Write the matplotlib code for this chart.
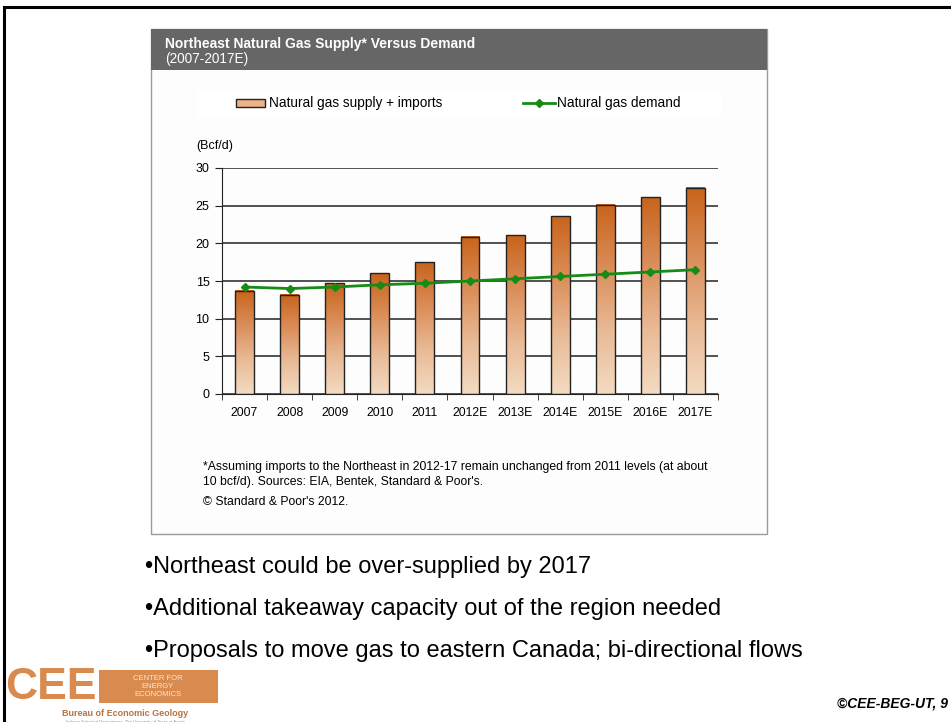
import matplotlib
matplotlib.use("Agg")
import matplotlib.pyplot as plt
import numpy as np
from matplotlib.patches import Rectangle
from matplotlib.lines import Line2D
from matplotlib.colors import LinearSegmentedColormap

# ---- data ----
categories = ["2007", "2008", "2009", "2010", "2011", "2012E", "2013E", "2014E", "2015E", "2016E", "2017E"]
supply = [13.7, 13.2, 14.7, 16.0, 17.5, 20.9, 21.1, 23.6, 25.1, 26.1, 27.4]
demand = [14.2, 14.0, 14.2, 14.5, 14.7, 15.0, 15.3, 15.6, 15.9, 16.2, 16.5]
y_ticks = [0, 5, 10, 15, 20, 25, 30]

title = "Northeast Natural Gas Supply* Versus Demand"
subtitle = "(2007-2017E)"
legend_labels = ["Natural gas supply + imports", "Natural gas demand"]
unit = "(Bcf/d)"
footnote1 = "*Assuming imports to the Northeast in 2012-17 remain unchanged from 2011 levels (at about"
footnote2 = "10 bcf/d). Sources: EIA, Bentek, Standard & Poor's."
footnote3 = "\u00a9 Standard & Poor's 2012."
bullets = ["\u2022Northeast could be over-supplied by 2017",
           "\u2022Additional takeaway capacity out of the region needed",
           "\u2022Proposals to move gas to eastern Canada; bi-directional flows"]
credit = "\u00a9CEE-BEG-UT, 9"

sans = "Liberation Sans"

W, H = 951, 722
fig = plt.figure(figsize=(W / 100, H / 100), dpi=100)
fig.patch.set_facecolor("white")

def fx(x):
    return x / W

def fy(y):
    return 1 - y / H

def ptext(x, y, s, **kw):
    kw.setdefault("family", sans)
    fig.text(fx(x), fy(y), s, **kw)

def prect(x0, y0, x1, y1, **kw):
    kw.setdefault("zorder", -5)
    fig.add_artist(Rectangle((fx(x0), fy(y1)), fx(x1) - fx(x0), fy(y0) - fy(y1), **kw))

# outer slide frame
fig.add_artist(Line2D([fx(4), fx(4)], [fy(7), fy(722)], color="black", lw=2.2))
fig.add_artist(Line2D([fx(4), fx(951)], [fy(7), fy(7)], color="black", lw=2.2))

# chart panel
prect(151, 29, 767, 534, facecolor="#FDFDFD", edgecolor="#9a9a9a", lw=1.0, zorder=-6)
prect(151, 29, 767, 70, facecolor="#666666", edgecolor="none")
prect(197, 91, 722, 117, facecolor="white", edgecolor="none")
ptext(165, 44, title, color="white", fontsize=10, fontweight="bold", va="center")
ptext(165, 59, subtitle, color="white", fontsize=9.8, va="center")

# plot axes
ax_l, ax_r, ax_t, ax_b = 222, 718, 168, 394
ax = fig.add_axes([fx(ax_l), fy(ax_b), fx(ax_r) - fx(ax_l), fy(ax_t) - fy(ax_b)])
ax.patch.set_alpha(0)
x = np.arange(len(categories))
bars = ax.bar(x, supply, width=0.42, color="none", edgecolor="#222222", lw=1.0, zorder=3)

cmap = LinearSegmentedColormap.from_list("g", ["#F3DBC2", "#E9BA96", "#DA8D58", "#C8641C"])
grad = np.linspace(0, 1, 256).reshape(-1, 1)
for b in bars:
    x0, w, h = b.get_x(), b.get_width(), b.get_height()
    ax.imshow(grad, cmap=cmap, origin="lower", aspect="auto",
              extent=[x0, x0 + w, 0, h], zorder=2)

ax.plot(x, demand, color="#168C16", lw=2.0, marker="D", markersize=4.5, zorder=4)

ax.set_xlim(-0.5, len(categories) - 0.5)
ax.set_ylim(0, 30)
ax.set_yticks(y_ticks)
ax.yaxis.grid(True, color="#222222", lw=1.1, zorder=1)
ax.set_axisbelow(True)
for s in ["top", "right"]:
    ax.spines[s].set_visible(False)
ax.spines["left"].set_color("#222222")
ax.spines["bottom"].set_color("#222222")
ax.set_xticks(x)
ax.set_xticklabels(categories, family=sans, fontsize=8.8)
ax.tick_params(axis="x", which="major", length=0, pad=9)
ax.set_xticks(np.arange(-0.5, len(categories), 1), minor=True)
ax.tick_params(axis="x", which="minor", length=4, direction="out", color="#222222")
ax.tick_params(axis="y", length=5, direction="out", color="#222222", labelsize=9, pad=4)
for lab in ax.get_yticklabels():
    lab.set_family(sans)
ax.set_xlim(-0.5, len(categories) - 0.5)

ptext(196, 146, unit, fontsize=9, va="center")

# legend
prect(236, 99, 265, 107, facecolor="#EDB48C", edgecolor="#222222", lw=1.0, zorder=2)
ptext(269, 103, legend_labels[0], fontsize=9.8, va="center")
fig.add_artist(Line2D([fx(523), fx(555)], [fy(103), fy(103)], color="#168C16", lw=2.0))
fig.add_artist(Line2D([fx(539)], [fy(103)], color="#168C16", marker="D", markersize=4))
ptext(557, 103, legend_labels[1], fontsize=9.8, va="center")

# footnotes
ptext(203, 467, footnote1, fontsize=8.8, va="center")
ptext(203, 482, footnote2, fontsize=8.8, va="center")
ptext(203, 502, footnote3, fontsize=8.8, va="center")

# bullets
for i, b in enumerate(bullets):
    ptext(145, 567 + 42 * i, b, fontsize=17, va="center")

# logo
orange = "#D98A4E"
ptext(5, 699, "CEE", fontsize=32, fontweight="bold", color=orange, va="baseline", ha="left")
prect(99, 670, 218, 703, facecolor=orange, edgecolor="none", zorder=1)
ptext(158, 678, "CENTER FOR", fontsize=5.5, color="#FBE6D4", ha="center", va="center")
ptext(158, 686.5, "ENERGY", fontsize=5.5, color="#FBE6D4", ha="center", va="center")
ptext(158, 695, "ECONOMICS", fontsize=5.5, color="#FBE6D4", ha="center", va="center")
ptext(125, 714, "Bureau of Economic Geology", fontsize=6.5, fontweight="bold", color="#B8733F",
      ha="center", va="center")
ptext(125, 721.6, "Jackson School of Geosciences, The University of Texas at Austin", fontsize=3,
      color="#C08050", ha="center", va="center")

ptext(948, 704, credit, fontsize=10, fontweight="bold", style="italic", ha="right", va="center")

fig.savefig("out.png", dpi=100)
